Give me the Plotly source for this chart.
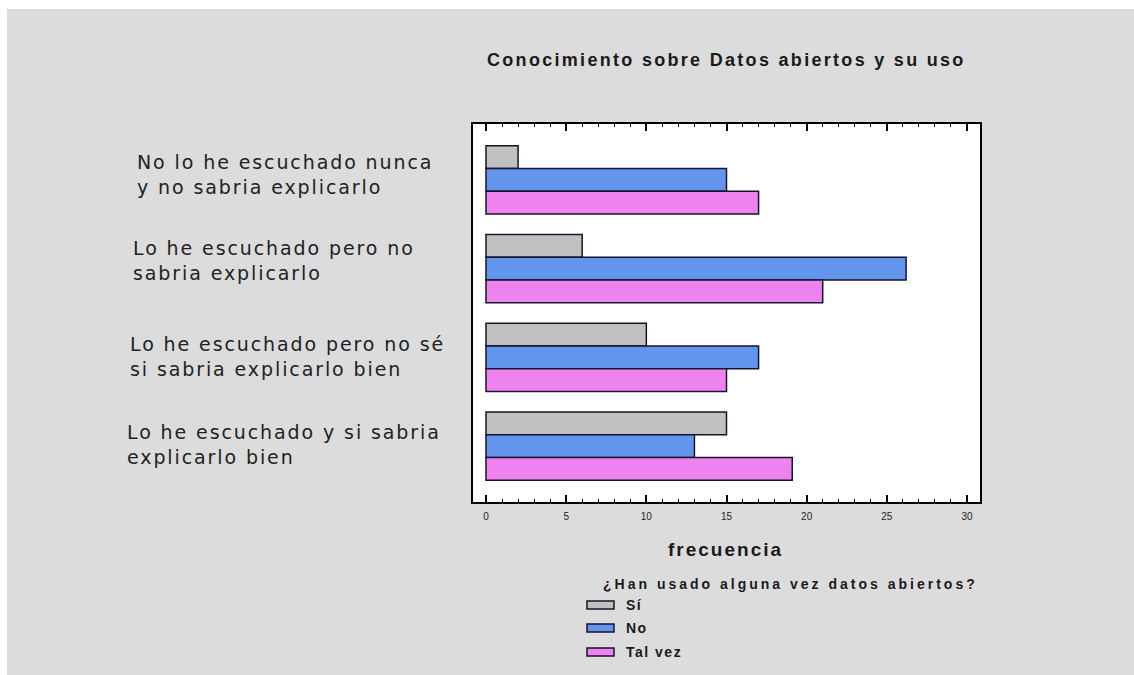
import plotly.graph_objects as go

categories = [
    "No lo he escuchado nunca<br>y no sabria explicarlo",
    "Lo he escuchado pero no<br>sabria explicarlo",
    "Lo he escuchado pero no sé<br>si sabria explicarlo bien",
    "Lo he escuchado y si sabria<br>explicarlo bien",
]
series_names = ["Sí", "No", "Tal vez"]
si_values = [2, 6, 10, 15]
no_values = [15, 26.2, 17, 13]
talvez_values = [17, 21, 15, 19.1]
series_values = [si_values, no_values, talvez_values]
colors = ["#C0C0C0", "#6495ED", "#EE82EE"]
x_ticks = [0, 5, 10, 15, 20, 25, 30]

W, H = 1134, 675
L, R, T, B = 473, 980, 124, 502

def px(x):
    return (x - L) / (R - L)

def py(y):
    return (B - y) / (B - T)

def spaced(text, ls):
    return '<span style="letter-spacing:%spx">%s</span>' % (ls, text)

fig = go.Figure()
ypos = list(range(len(categories)))
for name, vals, col in zip(series_names, series_values, colors):
    fig.add_trace(go.Bar(
        y=ypos, x=vals, name=name, orientation="h",
        marker=dict(color=col, line=dict(color="#15152e", width=1.5)),
        showlegend=False,
    ))

annotations = []
label_x = [135, 131, 128, 125]
label_shift = [5, 8, 1, 2]
for i, (cat, lx, sh) in enumerate(zip(categories, label_x, label_shift)):
    lines = cat.split("<br>")
    annotations.append(dict(
        text="<br>".join(spaced(t, 1.9) for t in lines), xref="paper", yref="y", x=px(lx), y=i, yshift=sh,
        xanchor="left", yanchor="middle", align="left", showarrow=False,
        font=dict(family="DejaVu Sans", size=19, color="#222222"),
    ))

# title
annotations.append(dict(
    text="<b>" + spaced("Conocimiento sobre Datos abiertos y su uso", 2.3) + "</b>",
    xref="paper", yref="paper", x=0.5, y=py(60), xanchor="center", yanchor="middle",
    showarrow=False, font=dict(family="Liberation Sans", size=18, color="#1a1a1a"),
))
# axis title
annotations.append(dict(
    text="<b>" + spaced("frecuencia", 2.0) + "</b>", xref="paper", yref="paper", x=px(725), y=py(549),
    xanchor="center", yanchor="middle", showarrow=False,
    font=dict(family="Liberation Sans", size=19, color="#1a1a1a"),
))
# legend title
annotations.append(dict(
    text="<b>" + spaced("¿Han usado alguna vez datos abiertos?", 3.0) + "</b>", xref="paper", yref="paper",
    x=px(601), y=py(584), xanchor="left", yanchor="middle", showarrow=False,
    font=dict(family="Liberation Sans", size=14, color="#1a1a1a"),
))

shapes = []
legend_y = [605, 628, 652]
for name, col, ly in zip(series_names, colors, legend_y):
    shapes.append(dict(
        type="rect", xref="paper", yref="paper",
        x0=px(587), x1=px(614), y0=py(ly + 4), y1=py(ly - 4),
        fillcolor=col, line=dict(color="#15152e", width=1.5),
    ))
    annotations.append(dict(
        text="<b>" + spaced(name, 1.5) + "</b>", xref="paper", yref="paper",
        x=px(624), y=py(ly), xanchor="left", yanchor="middle", showarrow=False,
        font=dict(family="Liberation Sans", size=14, color="#1a1a1a"),
    ))

# white border strips at top and left
shapes.append(dict(type="rect", xref="paper", yref="paper", layer="below",
                   x0=px(0), x1=px(W), y0=py(9), y1=py(-2),
                   fillcolor="white", line=dict(width=0)))
shapes.append(dict(type="rect", xref="paper", yref="paper", layer="below",
                   x0=px(-2), x1=px(7), y0=py(H + 2), y1=py(-2),
                   fillcolor="white", line=dict(width=0)))

fig.update_layout(
    width=W, height=H,
    margin=dict(l=L, r=W - R, t=T, b=H - B, pad=0),
    paper_bgcolor="#DCDCDC", plot_bgcolor="white",
    barmode="group", bargap=0.23, bargroupgap=0,
    showlegend=False,
    annotations=annotations, shapes=shapes,
    xaxis=dict(
        range=[-0.81, 30.81], tickvals=x_ticks, ticks="inside", ticklen=7,
        tickwidth=1.5, tickcolor="black", showline=True, linecolor="black",
        linewidth=2, mirror="ticks", showgrid=False, zeroline=False,
        ticklabelstandoff=4,
        tickfont=dict(family="Liberation Sans", size=10, color="#222222"),
        minor=dict(dtick=1, ticks="inside", ticklen=3, tickcolor="black",
                   tickwidth=1, showgrid=False),
    ),
    yaxis=dict(
        range=[3.63, -0.63], showticklabels=False, ticks="", showline=True,
        linecolor="black", linewidth=2, mirror=True, showgrid=False,
        zeroline=False,
    ),
)
fig.update_xaxes(tickprefix="<b>", ticksuffix="</b>")

fig.write_html(
    "out.html",
    config={"displayModeBar": False},
    post_script="document.body.style.margin='0';document.body.style.overflow='hidden';",
)
